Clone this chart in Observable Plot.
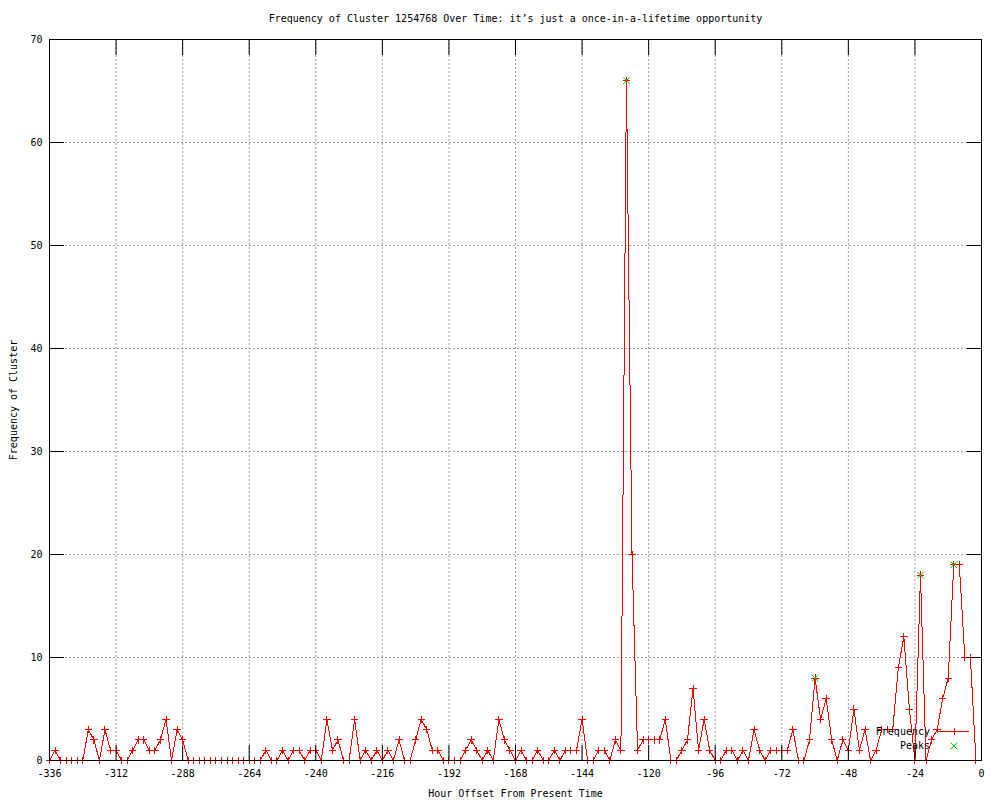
<!DOCTYPE html>
<html>
<head>
<meta charset="utf-8">
<script src="https://cdn.jsdelivr.net/npm/d3@7"></script>
<script src="https://cdn.jsdelivr.net/npm/@observablehq/plot@0.6"></script>
<style>
html, body { margin: 0; padding: 0; background: #fff; }
#chart svg { display: block; }
</style>
</head>
<body>
<div id="chart"></div>
<script>
// ---- data ----
const titleText = "Frequency of Cluster 1254768 Over Time: it\u2019s just a once-in-a-lifetime opportunity";
const xLabelText = "Hour Offset From Present Time";
const yLabelText = "Frequency of Cluster";
const legendFreq = "Frequency";
const legendPeaks = "Peaks";

const firstHour = -336;
const hourStep = 2;
// frequency per 2-hour bin, from -336 to -2
const frequency = [
  0,1,0,0,0,0,0,3,2,0, 3,1,1,0,0,1,2,2,1,1,
  2,4,0,3,2,0,0,0,0,0, 0,0,0,0,0,0,0,0,0,1,
  0,0,1,0,1,1,0,1,1,0, 4,1,2,0,0,4,0,1,0,1,
  0,1,0,2,0,0,2,4,3,1, 1,0,0,0,0,1,2,1,0,1,
  0,4,2,1,0,1,0,0,1,0, 0,1,0,1,1,1,4,0,0,1,
  1,0,2,1,66,20,1,2,2,2, 2,4,0,0,1,2,7,1,4,1,
  0,0,1,1,0,1,0,3,1,0, 1,1,1,1,3,0,0,2,8,4,
  6,2,0,2,1,5,1,3,0,1, 3,3,3,9,12,5,0,18,0,2,
  3,6,8,19,19,10,10,0
];
const peakHours = [-128, -60, -22, -10];
const peakValues = [66, 8, 18, 19];

const xTicks = [-336,-312,-288,-264,-240,-216,-192,-168,-144,-120,-96,-72,-48,-24,0];
const yTicks = [0,10,20,30,40,50,60,70];

// ---- tables ----
const rows = frequency.map((v, i) => ({hour: firstHour + i * hourStep, freq: v}));
const peaks = peakHours.map((h, i) => ({hour: h, freq: peakValues[i]}));

const RED = "#ff0000";
const GREEN = "#00c000";
const GRID = "#a0a0a0";
const FONT = "'DejaVu Sans Mono', monospace";

const chart = Plot.plot({
  width: 1000,
  height: 800,
  marginLeft: 49,
  marginRight: 19,
  marginTop: 39,
  marginBottom: 40,
  style: {fontFamily: FONT, fontSize: "10px", background: "#ffffff", color: "#000000", overflow: "visible"},
  x: {domain: [-336, 0]},
  y: {domain: [0, 70]},
  marks: [
    Plot.gridX(xTicks, {stroke: GRID, strokeOpacity: 1, strokeDasharray: "2,2"}),
    Plot.gridY(yTicks, {stroke: GRID, strokeOpacity: 1, strokeDasharray: "2,2"}),
    Plot.line(rows, {x: "hour", y: "freq", stroke: RED, strokeWidth: 1, shapeRendering: "crispEdges"}),
    Plot.dot(rows, {x: "hour", y: "freq", symbol: "plus", r: 2.5, stroke: RED, strokeWidth: 1, shapeRendering: "crispEdges"}),
    Plot.dot(peaks, {x: "hour", y: "freq", symbol: "times", r: 3.1, stroke: GREEN, strokeWidth: 1}),
    Plot.frame({stroke: "#000000"}),
    Plot.axisX(xTicks, {anchor: "bottom", tickSize: -15, tickPadding: 24, tickFormat: d => String(d), label: null, stroke: "#000"}),
    Plot.axisX(xTicks, {anchor: "top", tickSize: -15, tickFormat: () => "", label: null, stroke: "#000"}),
    Plot.axisY(yTicks, {anchor: "left", tickSize: -15, tickPadding: 22, tickFormat: d => String(d), label: null, stroke: "#000"}),
    Plot.axisY(yTicks, {anchor: "right", tickSize: -15, tickFormat: () => "", label: null, stroke: "#000"}),
    Plot.text([titleText], {text: d => d, frameAnchor: "top", lineAnchor: "middle", dy: -21, fill: "#000"}),
    Plot.text([xLabelText], {text: d => d, frameAnchor: "bottom", lineAnchor: "middle", dy: 33, fill: "#000"}),
    Plot.text([yLabelText], {text: d => d, frameAnchor: "left", textAnchor: "middle", lineAnchor: "middle", dx: -36, rotate: -90, fill: "#000"})
  ]
});

document.getElementById("chart").appendChild(chart);

// ---- key (legend) in the lower-right corner ----
const svg = d3.select(chart);
const key = svg.append("g").attr("font-family", FONT).attr("font-size", 10);
key.append("text").attr("x", 930).attr("y", 732).attr("dy", "0.32em").attr("text-anchor", "end").attr("fill", "#000").text(legendFreq);
key.append("line").attr("x1", 937).attr("x2", 969).attr("y1", 731.5).attr("y2", 731.5).attr("stroke", RED).attr("shape-rendering", "crispEdges");
key.append("path").attr("d", "M950.5,731.5H957.5M954,728V735").attr("stroke", RED).attr("fill", "none").attr("shape-rendering", "crispEdges");
key.append("text").attr("x", 930).attr("y", 746).attr("dy", "0.32em").attr("text-anchor", "end").attr("fill", "#000").text(legendPeaks);
key.append("path").attr("d", "M950.7,742.7L957.3,749.3M950.7,749.3L957.3,742.7").attr("stroke", GREEN).attr("fill", "none");
</script>
</body>
</html>
